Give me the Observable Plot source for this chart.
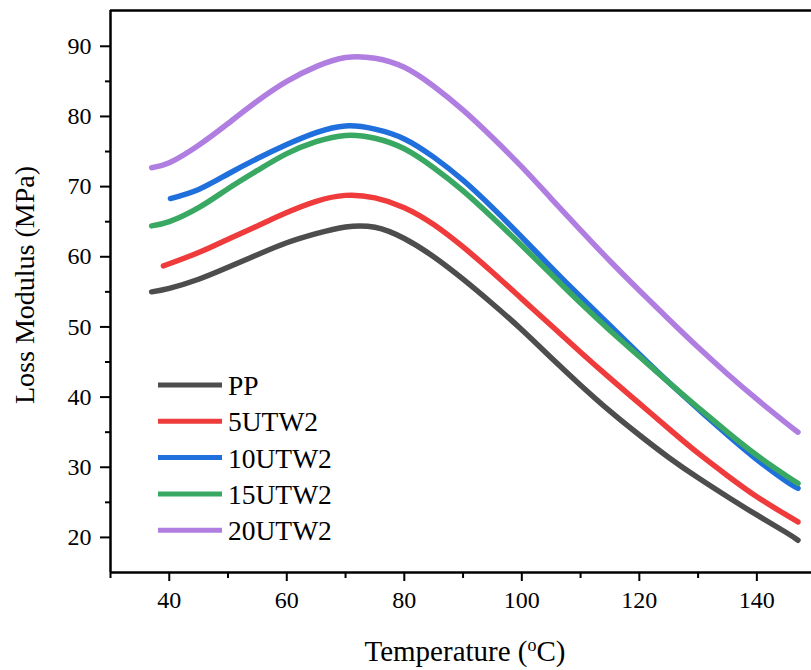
<!DOCTYPE html>
<html>
<head>
<meta charset="utf-8">
<script src="https://cdn.jsdelivr.net/npm/d3@7"></script>
<script src="https://cdn.jsdelivr.net/npm/@observablehq/plot@0.6"></script>
<style>
  body { margin: 0; background: #fff; }
  #chart svg { font-family: "Liberation Serif", "Times New Roman", serif; }
</style>
</head>
<body>
<div id="chart"></div>
<script>
const seriesNames = ["PP", "5UTW2", "10UTW2", "15UTW2", "20UTW2"];
const seriesColors = ["#4d4d4d", "#ef3b3b", "#1f6fdc", "#38a862", "#b07ee0"];

const tempPP   = [37, 40, 45, 50, 55, 60, 65, 70, 75, 80, 85, 90, 95, 100, 105, 110, 115, 120, 125, 130, 135, 140, 145, 147];
const valPP    = [55.0, 55.5, 56.8, 58.5, 60.3, 62.0, 63.3, 64.25, 64.2, 62.6, 60.0, 56.8, 53.3, 49.6, 45.6, 41.7, 38.0, 34.6, 31.4, 28.5, 25.8, 23.2, 20.7, 19.6];

const temp5    = [39, 40, 45, 50, 55, 60, 65, 70, 75, 80, 85, 90, 95, 100, 105, 110, 115, 120, 125, 130, 135, 140, 145, 147];
const val5     = [58.7, 59.0, 60.6, 62.5, 64.4, 66.3, 67.9, 68.75, 68.4, 67.0, 64.6, 61.4, 57.8, 54.0, 50.2, 46.4, 42.7, 39.1, 35.5, 32.0, 28.8, 25.8, 23.2, 22.2];

const temp10   = [40.2, 45, 50, 55, 60, 65, 70, 75, 80, 85, 90, 95, 100, 105, 110, 115, 120, 125, 130, 135, 140, 145, 147];
const val10    = [68.3, 69.6, 71.8, 74.0, 76.0, 77.7, 78.65, 78.2, 76.8, 74.2, 70.9, 67.0, 62.8, 58.5, 54.3, 50.2, 46.1, 42.1, 38.3, 34.6, 31.1, 28.0, 27.0];

const temp15   = [37, 40, 45, 50, 55, 60, 65, 70, 75, 80, 85, 90, 95, 100, 105, 110, 115, 120, 125, 130, 135, 140, 145, 147];
const val15    = [64.4, 65.0, 67.0, 69.7, 72.3, 74.7, 76.4, 77.3, 76.9, 75.4, 72.7, 69.4, 65.6, 61.6, 57.5, 53.4, 49.5, 45.8, 42.1, 38.5, 35.0, 31.7, 28.8, 27.7];

const temp20   = [37, 40, 45, 50, 55, 60, 65, 70, 75, 80, 85, 90, 95, 100, 105, 110, 115, 120, 125, 130, 135, 140, 145, 147];
const val20    = [72.7, 73.4, 75.9, 79.0, 82.2, 85.0, 87.1, 88.4, 88.3, 87.0, 84.3, 80.9, 77.0, 72.8, 68.3, 63.8, 59.4, 55.2, 51.1, 47.1, 43.3, 39.7, 36.3, 35.0];

const xMajor = [40, 60, 80, 100, 120, 140];
const xMinor = [30, 50, 70, 90, 110, 130];
const yMajor = [20, 30, 40, 50, 60, 70, 80, 90];
const yMinor = [25, 35, 45, 55, 65, 75, 85];

const temps = [tempPP, temp5, temp10, temp15, temp20];
const vals = [valPP, val5, val10, val15, val20];
const data = [];
seriesNames.forEach((name, i) => {
  temps[i].forEach((t, j) => data.push({series: name, t, v: vals[i][j]}));
});

const W = 811, H = 670;
const plot = Plot.plot({
  width: W,
  height: H,
  marginTop: 10,
  marginLeft: 110,
  marginRight: 0,
  marginBottom: 98,
  style: {fontFamily: "Liberation Serif, Times New Roman, serif", background: "#fff", overflow: "visible"},
  x: {domain: [30, 149.3]},
  y: {domain: [15, 95.1]},
  color: {domain: seriesNames, range: seriesColors},
  marks: [
    Plot.axisX({ticks: xMajor, tickSize: 9, tickPadding: 9, fontSize: 24, label: null, stroke: "#000", strokeWidth: 2, color: "#000"}),
    Plot.axisX({ticks: xMinor, tickSize: 6, text: null, label: null, stroke: "#000", strokeWidth: 2}),
    Plot.axisY({ticks: yMajor, tickSize: 10, tickPadding: 9, fontSize: 24, label: null, stroke: "#000", strokeWidth: 2, color: "#000"}),
    Plot.axisY({ticks: yMinor, tickSize: 5, text: null, label: null, stroke: "#000", strokeWidth: 2}),
    Plot.line(data, {x: "t", y: "v", z: "series", stroke: "series", strokeWidth: 5.5, curve: "natural"}),
    Plot.ruleY([15], {stroke: "#000", strokeWidth: 2.5}),
    Plot.ruleY([95.1], {stroke: "#000", strokeWidth: 2.5}),
    Plot.ruleX([30], {stroke: "#000", strokeWidth: 2.5})
  ]
});

const svg = d3.select(plot);
// axis titles
svg.append("text")
  .attr("x", 465).attr("y", 661)
  .attr("text-anchor", "middle")
  .attr("font-size", 29).attr("fill", "#000")
  .html('Temperature (<tspan baseline-shift="super" font-size="18">o</tspan>C)');
svg.append("text")
  .attr("transform", "translate(34,285) rotate(-90)")
  .attr("text-anchor", "middle")
  .attr("font-size", 28).attr("fill", "#000")
  .text("Loss Modulus (MPa)");

// legend
const lg = svg.append("g");
seriesNames.forEach((name, i) => {
  const y = 385 + i * 36.3;
  lg.append("line").attr("x1", 158).attr("x2", 222).attr("y1", y).attr("y2", y)
    .attr("stroke", seriesColors[i]).attr("stroke-width", 5);
  lg.append("text").attr("x", 228).attr("y", y + 10)
    .attr("text-anchor", "start")
    .attr("font-size", 27.5).attr("fill", "#000").text(name);
});

document.getElementById("chart").appendChild(plot);
</script>
</body>
</html>
